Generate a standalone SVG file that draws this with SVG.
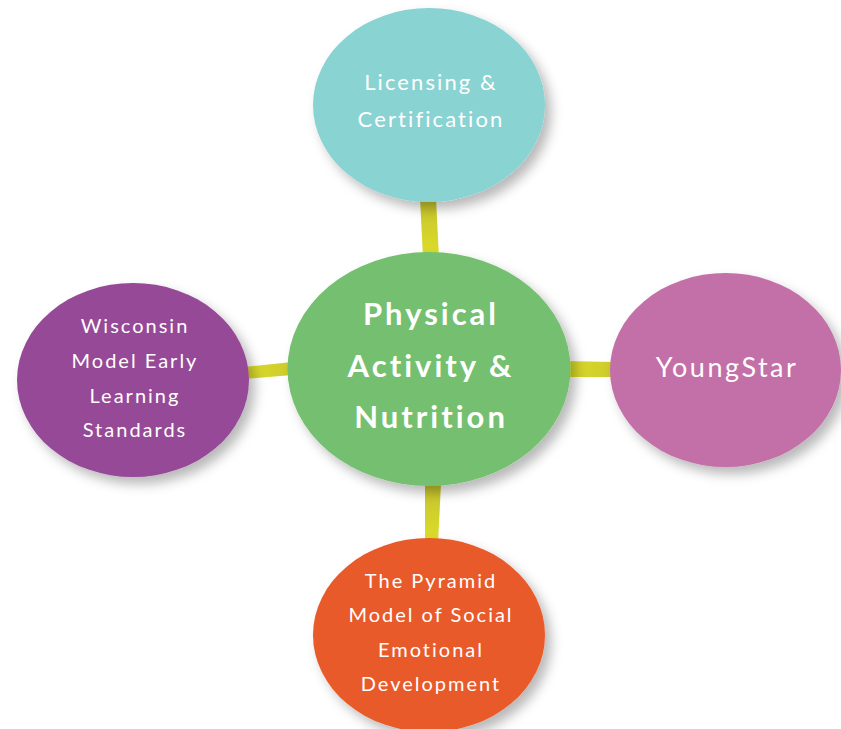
<svg xmlns="http://www.w3.org/2000/svg" width="841" height="729" viewBox="0 0 841 729">
  <defs>
    <filter id="sh" x="-20%" y="-20%" width="150%" height="150%">
      <feDropShadow dx="6" dy="7" stdDeviation="6" flood-color="#000" flood-opacity="0.28"/>
    </filter>
    <linearGradient id="gv" x1="0" y1="0" x2="0" y2="1">
      <stop offset="0" stop-color="#c4c22e"/>
      <stop offset="1" stop-color="#dede2a"/>
    </linearGradient>
    <linearGradient id="gh" x1="0" y1="0" x2="1" y2="0">
      <stop offset="0" stop-color="#dcdc2a"/>
      <stop offset="1" stop-color="#cccb2c"/>
    </linearGradient>
    <style>
      .t { font-family: Lato, "Open Sans", "Liberation Sans", sans-serif; fill: #fff; text-anchor: middle; }
      .s { font-size: 20px; letter-spacing: 2px; }
      .m { font-size: 22px; letter-spacing: 2.1px; }
      .b { font-size: 31px; font-weight: bold; letter-spacing: 3px; }
      .y { font-size: 27px; letter-spacing: 2.5px; }
    </style>
  </defs>
  <rect width="841" height="729" fill="#fff"/>
  <g id="connectors">
    <polygon points="420,198 436,198 439,258 423,258" fill="url(#gv)"/>
    <polygon points="425,484 441,484 438,543 425,543" fill="url(#gv)"/>
    <polygon points="244,367 292,362 292,375 244,379" fill="url(#gh)"/>
    <polygon points="565,361 614,362 614,377 565,377" fill="url(#gh)"/>
  </g>
  <g id="licensing">
    <ellipse cx="429" cy="105" rx="116" ry="97" fill="#89d3d3" filter="url(#sh)"/>
    <text class="t m" x="431" y="90">Licensing &amp;</text>
    <text class="t m" x="431" y="127">Certification</text>
  </g>
  <g id="wisconsin">
    <ellipse cx="133" cy="380" rx="116" ry="97" fill="#964897" filter="url(#sh)"/>
    <text class="t s" x="135" y="333">Wisconsin</text>
    <text class="t s" x="135" y="368">Model Early</text>
    <text class="t s" x="135" y="403">Learning</text>
    <text class="t s" x="135" y="437">Standards</text>
  </g>
  <g id="youngstar">
    <ellipse cx="725.5" cy="370" rx="115.5" ry="97" fill="#c470a8" filter="url(#sh)"/>
    <text class="t y" x="727" y="377">YoungStar</text>
  </g>
  <g id="pyramid">
    <ellipse cx="429" cy="635" rx="116" ry="97" fill="#e95a2a" filter="url(#sh)"/>
    <text class="t s" x="431" y="588">The Pyramid</text>
    <text class="t s" x="431" y="622">Model of Social</text>
    <text class="t s" x="431" y="657">Emotional</text>
    <text class="t s" x="431" y="691">Development</text>
  </g>
  <g id="center">
    <ellipse cx="429" cy="369" rx="141.5" ry="117" fill="#74c070" filter="url(#sh)"/>
    <text class="t b" x="431" y="325">Physical</text>
    <text class="t b" x="431" y="377">Activity &amp;</text>
    <text class="t b" x="431" y="428">Nutrition</text>
  </g>
</svg>
